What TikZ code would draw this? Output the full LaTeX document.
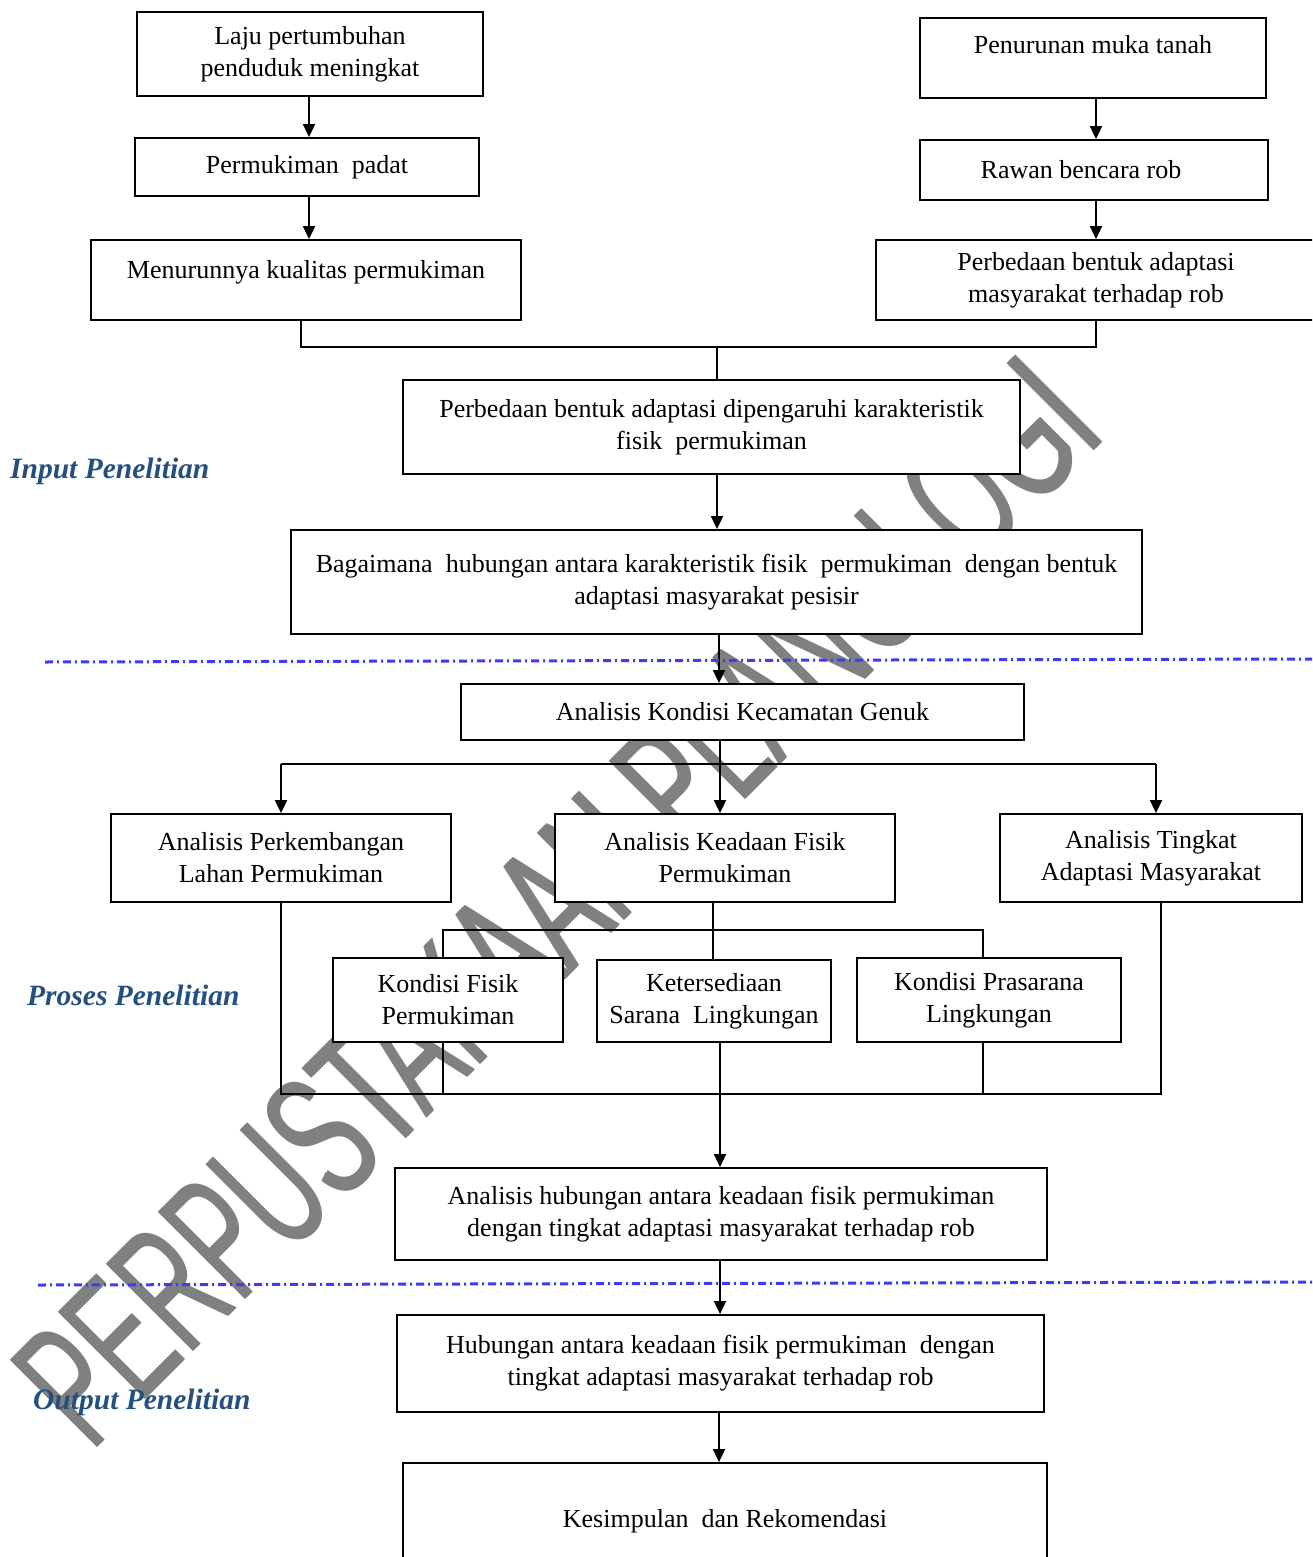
\documentclass[tikz,border=0pt]{standalone}
\usepackage{fontspec}
\setmainfont{Liberation Serif}
\newfontfamily\wmfont{Liberation Sans}
\usepackage{graphicx}
\usetikzlibrary{arrows.meta,calc}
\definecolor{lbl}{RGB}{36,80,128}
\definecolor{dashblue}{RGB}{60,60,245}
\definecolor{wmgray}{RGB}{128,128,128}
\newcommand{\wmtext}{\resizebox{1437pt}{125pt}{\wmfont PERPUSTAKAAN PLANOLOGI}}
\begin{document}
\begin{tikzpicture}[x=1pt,y=-1pt,
  box/.style={draw, line width=1.8pt, fill=white, inner sep=0pt, align=center,
              font=\fontsize{26pt}{32pt}\selectfont},
  conn/.style={line width=1.8pt},
  arr/.style={conn, -{Triangle[length=13pt,width=12pt]}},
  sep/.style={dashblue, line width=3pt, dash pattern=on 8pt off 4pt on 2pt off 4pt},
  wmark/.style={wmgray, rotate=45, anchor=base west, inner sep=0pt},
  side/.style={lbl, font=\fontsize{29.5pt}{34pt}\selectfont\bfseries\itshape, anchor=west, inner sep=0pt}]
\useasboundingbox (0,0) rectangle (1312,1557);
\clip (0,0) rectangle (1312,1557);
\fill[white] (0,0) rectangle (1312,1557);

% watermark (second copy, slightly shifted, thickens the strokes)
\coordinate (wp) at (91,1454);
\node[wmark] (wm) at (wp) {\wmtext};
\node[wmark, xshift=2pt] (wm2) at (wp) {\wmtext};

% boxes
\node[box, minimum width=346pt, minimum height=84pt] (b1) at (310,54) {Laju pertumbuhan\\penduduk meningkat};
\node[box, minimum width=344pt, minimum height=58pt] (b2) at (307,167) {Permukiman\ \ padat};
\node[box, minimum width=430pt, minimum height=80pt, text height=20pt, text depth=24pt] (b3) at (306,280) {Menurunnya kualitas permukiman};
\node[box, minimum width=346pt, minimum height=80pt, text height=20pt, text depth=28pt] (b4) at (1093,58) {Penurunan muka tanah};
\node[box, minimum width=348pt, minimum height=60pt] (b5) at (1094,170) {Rawan bencara rob\hspace*{26pt}};
\node[box, minimum width=440pt, minimum height=80pt] (b6) at (1096,280) {Perbedaan bentuk adaptasi\\masyarakat terhadap rob};
\node[box, minimum width=617pt, minimum height=94pt] (b7) at (711.5,427) {Perbedaan bentuk adaptasi dipengaruhi karakteristik\\fisik\ \ permukiman};
\node[box, minimum width=851pt, minimum height=104pt] (b8) at (716.5,582) {Bagaimana\ \ hubungan antara karakteristik fisik\ \ permukiman\ \ dengan bentuk\\adaptasi masyarakat pesisir};
\node[box, minimum width=563pt, minimum height=56pt] (b9) at (742.5,712) {Analisis Kondisi Kecamatan Genuk};
\node[box, minimum width=340pt, minimum height=88pt] (b10) at (281,858) {Analisis Perkembangan\\Lahan Permukiman};
\node[box, minimum width=340pt, minimum height=88pt] (b11) at (725,858) {Analisis Keadaan Fisik\\Permukiman};
\node[box, minimum width=302pt, minimum height=88pt] (b12) at (1151,858) {Analisis Tingkat\\Adaptasi Masyarakat};
\node[box, minimum width=230pt, minimum height=84pt] (b13) at (448,1000) {Kondisi Fisik\\Permukiman};
\node[box, minimum width=234pt, minimum height=82pt] (b14) at (714,1001) {Ketersediaan\\Sarana\ \ Lingkungan};
\node[box, minimum width=264pt, minimum height=84pt] (b15) at (989,1000) {Kondisi Prasarana\\Lingkungan};
\node[box, minimum width=652pt, minimum height=92pt] (b16) at (721,1214) {Analisis hubungan antara keadaan fisik permukiman\\dengan tingkat adaptasi masyarakat terhadap rob};
\node[box, minimum width=647pt, minimum height=97pt] (b17) at (720.5,1363.5) {Hubungan antara keadaan fisik permukiman\ \ dengan\\tingkat adaptasi masyarakat terhadap rob};
\node[box, minimum width=644pt, minimum height=116pt] (b18) at (725,1521) {Kesimpulan\ \ dan Rekomendasi};

% helper coordinates
\coordinate (kl) at (309,0);
\coordinate (kr) at (1096,0);
\coordinate (k3) at (301,347);
\coordinate (j1) at (717,347);
\coordinate (ax) at (719,0);
\coordinate (j2) at (720,764);
\coordinate (k10) at (281,764);
\coordinate (k12) at (1156,764);
\coordinate (j3) at (713,930);
\coordinate (k13) at (443,930);
\coordinate (k15) at (983,930);
\coordinate (m10) at (281,1094);
\coordinate (m13) at (443,1094);
\coordinate (m15) at (983,1094);
\coordinate (m12) at (1161,1094);
\coordinate (ax2) at (720,0);

% connectors
\draw[arr] (kl |- b1.south) -- (kl |- b2.north);
\draw[arr] (kl |- b2.south) -- (kl |- b3.north);
\draw[arr] (kr |- b4.south) -- (kr |- b5.north);
\draw[arr] (kr |- b5.south) -- (kr |- b6.north);
\draw[conn] (k3 |- b3.south) -- (k3) -- (kr |- k3) -- (kr |- b6.south);
\draw[conn] (j1) -- (j1 |- b7.north);
\draw[arr] (j1 |- b7.south) -- (j1 |- b8.north);
\draw[arr] (ax |- b8.south) -- (ax |- b9.north);
\draw[arr] (j2 |- b9.south) -- (j2 |- b11.north);
\draw[conn] (k10) -- (k12);
\draw[arr] (k10) -- (k10 |- b10.north);
\draw[arr] (k12) -- (k12 |- b12.north);
\draw[conn] (j3 |- b11.south) -- (j3 |- b14.north);
\draw[conn] (k13 |- b13.north) -- (k13) -- (k15) -- (k15 |- b15.north);
\draw[conn] (m10 |- b10.south) -- (m10) -- (m12) -- (m12 |- b12.south);
\draw[conn] (m13 |- b13.south) -- (m13);
\draw[conn] (m15 |- b15.south) -- (m15);
\draw[arr] (ax2 |- b14.south) -- (ax2 |- b16.north);
\draw[arr] (ax2 |- b16.south) -- (ax2 |- b17.north);
\draw[arr] (ax |- b17.south) -- (ax |- b18.north);

% separators
\coordinate (d1a) at (45,662);
\coordinate (d1b) at (1312,659);
\coordinate (d2a) at (38,1285);
\coordinate (d2b) at (1312,1282);
\draw[sep] (d1a) -- (d1b);
\draw[sep] (d2a) -- (d2b);

% side labels
\node[side] (lin) at (10,471) {Input Penelitian};
\node[side] (lpr) at (27,995) {Proses Penelitian};
\node[side] (lout) at (33,1402) {Output Penelitian};
\end{tikzpicture}
\end{document}
